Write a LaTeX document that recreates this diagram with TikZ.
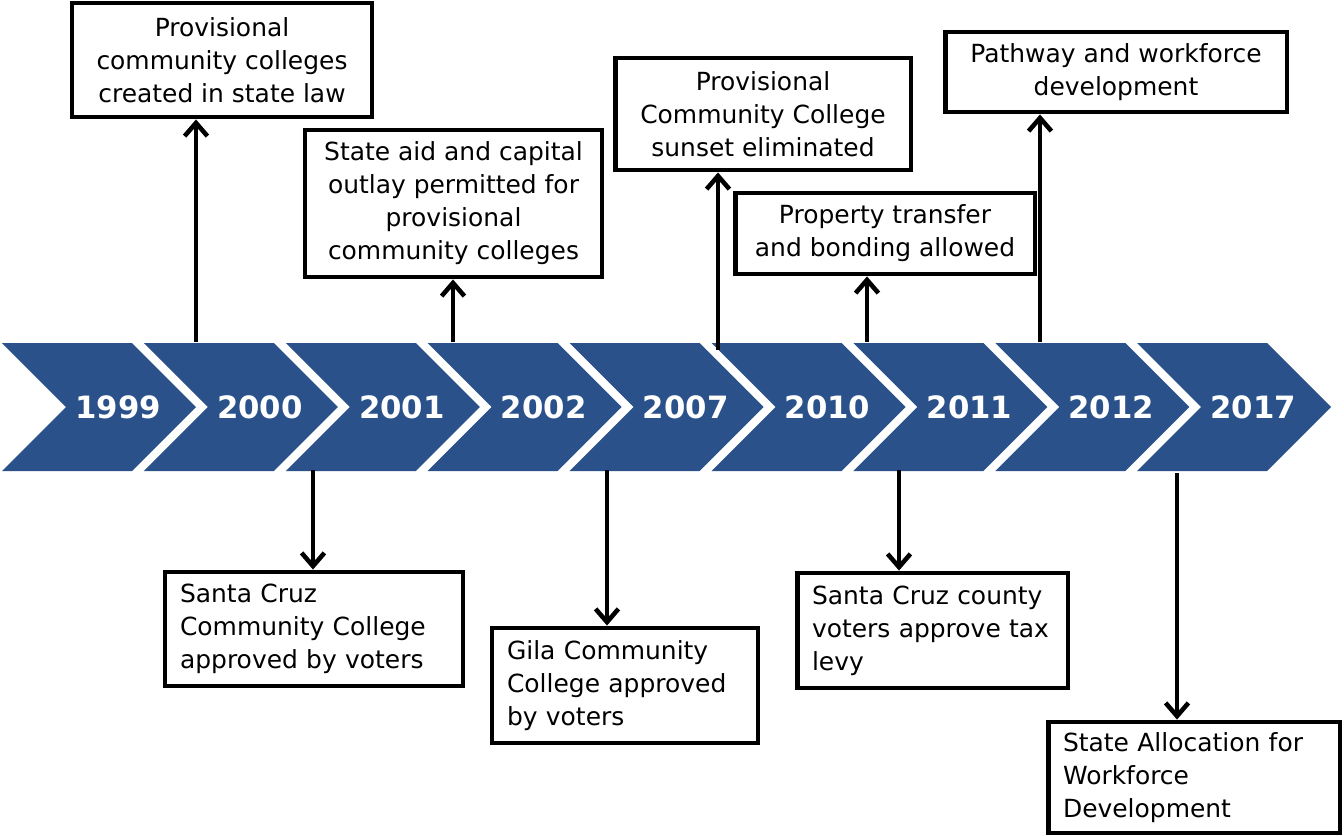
\documentclass[tikz,border=0pt]{standalone}
\usepackage{fontspec}
\setmainfont{DejaVu Sans}
\usetikzlibrary{arrows.meta}
\definecolor{chevblue}{HTML}{2A5189}

\tikzset{
  event/.style={draw, line width=2.8pt, fill=white, inner ysep=0pt,
    font=\fontsize{14.2}{18.8}\selectfont},
  upevent/.style={event, align=center, inner xsep=0.16cm},
  downevent/.style={event, align=left, inner xsep=0.3cm, text width=#1},
  link/.style={line width=2.6pt, -{Straight Barb[length=7.5pt,width=13pt]}},
  year/.style={text=white, font=\fontsize{17.5}{20}\selectfont\bfseries}
}

\begin{document}
\begin{tikzpicture}[x=0.02cm, y=-0.02cm]
    %initialisation
    \useasboundingbox (0,0) rectangle (1344,835);
    %chevrons
    \foreach \yr [count=\i from 0] in {1999,2000,2001,2002,2007,2010,2011,2012,2017}{
      \pgfmathsetmacro\xa{2+141.9*\i}
      \fill[chevblue] (\xa,343) -- ++(130,0) -- ++(64,64) -- ++(-64,64)
        -- ++(-130,0) -- ++(64,-64) -- cycle;
      \node[year] (y\yr) at (\xa+116,407) {\yr};
    }
    %definitions
    \coordinate (t1) at (196,342);
    \coordinate (t2) at (453,342);
    \coordinate (t3) at (718,350);
    \coordinate (t4) at (867,342);
    \coordinate (t5) at (1040,342);
    \coordinate (b1) at (313,470);
    \coordinate (b2) at (607,470);
    \coordinate (b3) at (899,470);
    \coordinate (b4) at (1177,473);
    %events above
    \node[upevent, minimum width=6cm, minimum height=2.28cm] (created) at (222,60)
      {Provisional\\community colleges\\created in state law};
    \node[upevent, minimum width=5.94cm, minimum height=2.94cm] (aid) at (453.5,203.5)
      {State aid and capital\\outlay permitted for\\provisional\\community colleges};
    \node[upevent, minimum width=5.92cm, minimum height=2.24cm] (sunset) at (763,114)
      {Provisional\\Community College\\sunset eliminated};
    \node[upevent, minimum width=6cm, minimum height=1.62cm] (transfer) at (885,233.5)
      {Property transfer\\and bonding allowed};
    \node[upevent, minimum width=6.84cm, minimum height=1.6cm] (pathway) at (1116,72)
      {Pathway and workforce\\development};
    %events below
    \node[downevent=5.36cm, minimum height=2.28cm] (scc) at (314,629)
      {Santa Cruz\\Community College\\approved by voters};
    \node[downevent=4.72cm, minimum height=2.3cm] (gila) at (625,685.5)
      {Gila Community\\College approved\\by voters};
    \node[downevent=4.82cm, minimum height=2.3cm] (levy) at (932.5,630.5)
      {Santa Cruz county\\voters approve tax\\levy};
    \node[downevent=5.24cm, minimum height=2.22cm] (alloc) at (1194,777.5)
      {State Allocation for\\Workforce\\Development};
    %drawing
    \draw[link] (t1) -- (t1 |- created.south);
    \draw[link] (t2) -- (t2 |- aid.south);
    \draw[link] (t3) -- (t3 |- sunset.south);
    \draw[link] (t4) -- (t4 |- transfer.south);
    \draw[link] (t5) -- (t5 |- pathway.south);
    \draw[link] (b1) -- (b1 |- scc.north);
    \draw[link] (b2) -- (b2 |- gila.north);
    \draw[link] (b3) -- (b3 |- levy.north);
    \draw[link] (b4) -- (b4 |- alloc.north);
\end{tikzpicture}
\end{document}
